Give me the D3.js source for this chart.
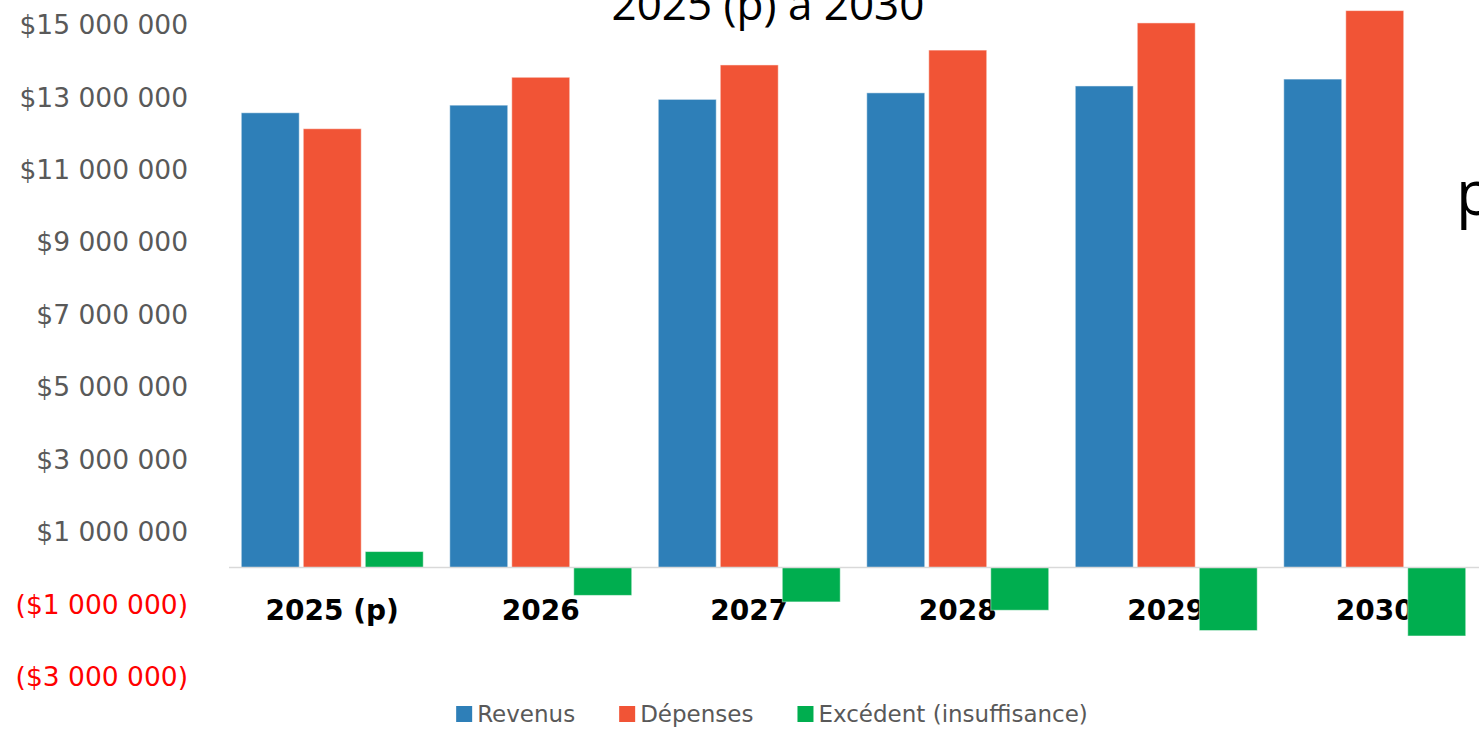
<!DOCTYPE html>
<html>
<head>
<meta charset="utf-8">
<script src="https://cdn.jsdelivr.net/npm/d3@7"></script>
<style>
  body { margin: 0; background: #ffffff; overflow: hidden; }
</style>
</head>
<body>
<div id="chart"></div>
<script>
// chart data
var categories = ["2025 (p)", "2026", "2027", "2028", "2029", "2030"];
var seriesNames = ["Revenus", "Dépenses", "Excédent (insuffisance)"];
var revenus = [12550000, 12760000, 12920000, 13100000, 13290000, 13480000];
var depenses = [12110000, 13530000, 13870000, 14280000, 15030000, 15370000];
var excedent = [440000, -770000, -950000, -1180000, -1740000, -1890000];
var tickValues = [15000000, 13000000, 11000000, 9000000, 7000000, 5000000, 3000000, 1000000, -1000000, -3000000];
var colors = ["#2e7fb8", "#f15436", "#00ae4f"];

(function () {
    var width = 1479, height = 735;

    var svg = d3.select("#chart").append("svg")
        .attr("width", width)
        .attr("height", height);

    var rows = categories.map(function (c, i) {
        return { cat: c, values: [revenus[i], depenses[i], excedent[i]] };
    });

    // scales
    var y = d3.scaleLinear()
        .domain([-3000000, 15000000])
        .range([676.2, 24]);

    var x0 = d3.scaleBand()
        .domain(categories)
        .range([228, 1479])
        .padding(0);

    var x1 = d3.scaleBand()
        .domain(seriesNames)
        .range([0, x0.bandwidth()])
        .paddingInner(0.065)
        .paddingOuter(0.214);

    // title, cut off at the top like in the original slide
    svg.append("text")
        .attr("x", 768)
        .attr("y", 20)
        .attr("text-anchor", "middle")
        .style("font-family", "'Open Sans'")
        .style("font-size", "44px")
        .style("fill", "#000")
        .text("2025 (p) à 2030");

    // stray letter on the right edge
    svg.append("text")
        .attr("x", 1456)
        .attr("y", 215)
        .style("font-family", "'Open Sans'")
        .style("font-size", "62px")
        .style("fill", "#000")
        .text("p");

    // y axis labels
    var fmt = d3.formatLocale({ decimal: ",", thousands: " ", grouping: [3], currency: ["$", ""] }).format("$,.0f");
    var yAxis = d3.axisLeft(y)
        .tickValues(tickValues)
        .tickSize(0)
        .tickPadding(0)
        .tickFormat(function (d) {
            return d < 0 ? "(" + fmt(-d) + ")" : fmt(d);
        });

    var gy = svg.append("g")
        .attr("transform", "translate(188,0)")
        .call(yAxis);
    gy.select(".domain").remove();
    gy.selectAll("text")
        .style("font-family", "'DejaVu Sans'")
        .style("font-size", "26.5px")
        .attr("dy", "0.36em")
        .style("fill", function (d) { return d < 0 ? "#ff0000" : "#595959"; });

    // category labels (drawn before bars, bars sit on top)
    svg.append("g").selectAll("text")
        .data(categories)
        .enter().append("text")
        .attr("x", function (d) { return x0(d) + x0.bandwidth() / 2; })
        .attr("y", 620)
        .attr("text-anchor", "middle")
        .style("font-family", "'DejaVu Sans'")
        .style("font-weight", "bold")
        .style("font-size", "28px")
        .style("fill", "#000")
        .text(function (d) { return d; });

    // bars
    var groups = svg.append("g").selectAll("g")
        .data(rows)
        .enter().append("g")
        .attr("transform", function (d) { return "translate(" + x0(d.cat) + ",0)"; });

    groups.selectAll("rect")
        .data(function (d) {
            return d.values.map(function (v, i) { return { key: seriesNames[i], value: v, i: i }; });
        })
        .enter().append("rect")
        .attr("x", function (d) { return x1(d.key); })
        .attr("width", x1.bandwidth())
        .attr("y", function (d) { return y(Math.max(0, d.value)); })
        .attr("height", function (d) { return Math.abs(y(d.value) - y(0)); })
        .attr("fill", function (d) { return colors[d.i]; })
        .attr("stroke", "#ffffff")
        .attr("stroke-opacity", 0.5)
        .attr("stroke-width", 1);

    // zero line
    svg.append("line")
        .attr("x1", 229)
        .attr("x2", 1479)
        .attr("y1", y(0))
        .attr("y2", y(0))
        .attr("stroke", "#d9d9d9")
        .attr("stroke-width", 1.5);

    // legend
    var legend = svg.append("g");
    var items = legend.selectAll("g")
        .data(seriesNames)
        .enter().append("g");
    items.append("rect")
        .attr("width", 16)
        .attr("height", 16)
        .attr("y", 706)
        .attr("fill", function (d, i) { return colors[i]; });
    items.append("text")
        .attr("x", 21)
        .attr("y", 722)
        .style("font-family", "'DejaVu Sans'")
        .style("font-size", "23px")
        .style("fill", "#595959")
        .text(function (d) { return d; });

    var pos = 0, offsets = [];
    items.each(function (d, i) {
        offsets.push(pos);
        var w = d3.select(this).select("text").node().getComputedTextLength();
        pos += 21 + w + 44;
    });
    var total = pos - 44;
    var start = 772 - total / 2;
    items.attr("transform", function (d, i) { return "translate(" + (start + offsets[i]) + ",0)"; });
})();
</script>
</body>
</html>
